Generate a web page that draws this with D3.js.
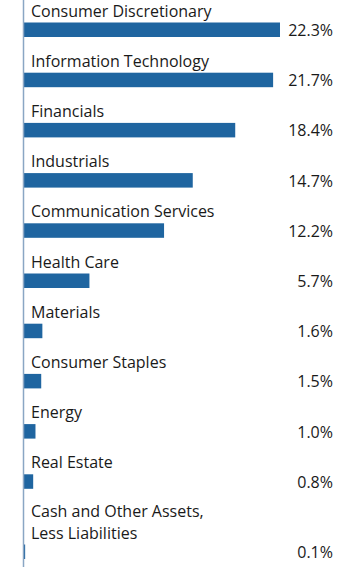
<!DOCTYPE html>
<html>
<head>
<meta charset="utf-8">
<script src="https://cdn.jsdelivr.net/npm/d3@7"></script>
<style>
html,body{margin:0;padding:0;background:#fff;}
svg{display:block;}
</style>
</head>
<body>
<svg id="chart" width="360" height="567"></svg>
<script>
const categories = [
  ["Consumer Discretionary"],
  ["Information Technology"],
  ["Financials"],
  ["Industrials"],
  ["Communication Services"],
  ["Health Care"],
  ["Materials"],
  ["Consumer Staples"],
  ["Energy"],
  ["Real Estate"],
  ["Cash and Other Assets,", "Less Liabilities"]
];
const values = [22.3, 21.7, 18.4, 14.7, 12.2, 5.7, 1.6, 1.5, 1.0, 0.8, 0.1];
const valueLabels = ["22.3%","21.7%","18.4%","14.7%","12.2%","5.7%","1.6%","1.5%","1.0%","0.8%","0.1%"];

const svg = d3.select("#chart");
const xScale = d3.scaleLinear().domain([0, 22.3]).range([24, 280]);

const rowStep = 50.2, firstBarTop = 22.5, extraLine = 20, labelLineH = 22, barH = 14.5;
let extra = 0;
const rows = categories.map((lines, i) => {
  extra += (lines.length - 1) * extraLine;
  return { lines, value: values[i], label: valueLabels[i], barTop: firstBarTop + i * rowStep + extra };
});

const font = "'Open Sans', sans-serif";
const fs = 16;

const g = svg.selectAll("g.row").data(rows).enter().append("g").attr("class","row");

g.append("rect")
  .attr("x", xScale(0))
  .attr("y", d => d.barTop)
  .attr("width", d => xScale(d.value) - xScale(0))
  .attr("height", barH)
  .attr("fill", "#1f65a0");

g.each(function(d){
  const sel = d3.select(this);
  const n = d.lines.length;
  d.lines.forEach((line, j) => {
    sel.append("text")
      .attr("x", 31)
      .attr("y", d.barTop - 6 - (n - 1 - j) * labelLineH)
      .attr("font-family", font)
      .attr("font-size", fs)
      .attr("fill", "#1a1a1a")
      .text(line);
  });
});

g.append("text")
  .attr("x", 333)
  .attr("y", d => d.barTop + barH - 1)
  .attr("text-anchor", "end")
  .attr("font-family", font)
  .attr("font-size", fs)
  .attr("fill", "#1a1a1a")
  .text(d => d.label);

svg.append("line")
  .attr("x1", 23.5).attr("x2", 23.5)
  .attr("y1", 0).attr("y2", 567)
  .attr("stroke", "#8aa6c4")
  .attr("stroke-width", 1.5);
</script>
</body>
</html>
